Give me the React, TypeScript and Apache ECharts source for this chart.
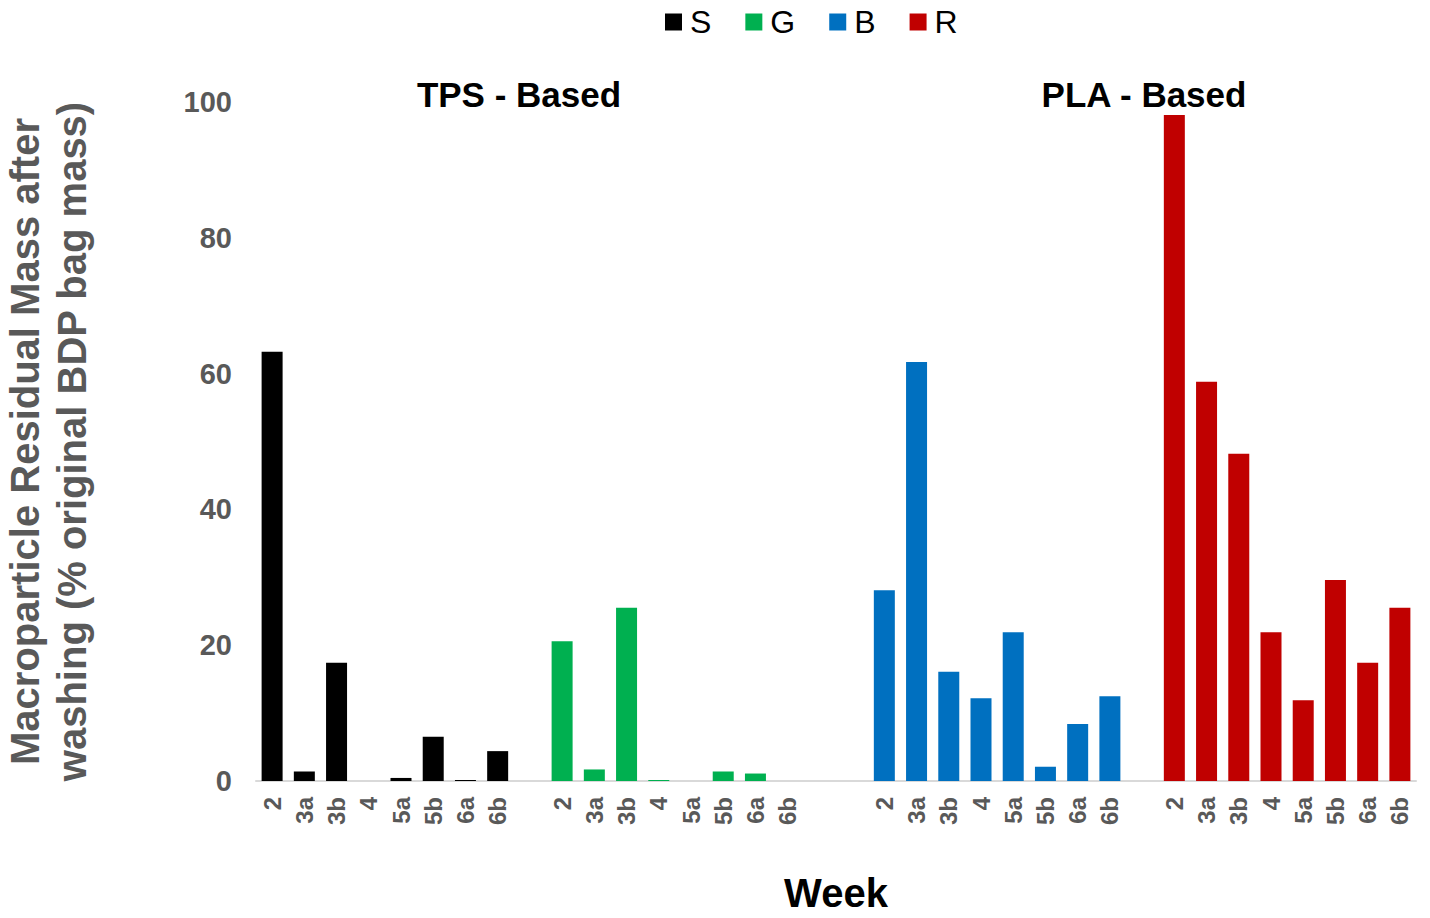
import React, { useEffect, useRef } from "react";
import * as echarts from "echarts";

const weeks = ["2", "3a", "3b", "4", "5a", "5b", "6a", "6b"];
const seriesNames = ["S", "G", "B", "R"];
const seriesColors = ["#000000", "#00b050", "#0070c0", "#c00000"];
const sValues = [63.2, 1.4, 17.4, 0, 0.45, 6.5, 0.15, 4.4];
const gValues = [20.6, 1.7, 25.5, 0.15, 0, 1.4, 1.1, 0];
const bValues = [28.1, 61.7, 16.1, 12.2, 21.9, 2.1, 8.4, 12.5];
const rValues = [98.1, 58.8, 48.2, 21.9, 11.9, 29.6, 17.4, 25.5];
// blank category slots between the groups
const gapSlots = [1, 2, 1];
const yTicks = [0, 20, 40, 60, 80, 100];
const groupTitles = ["TPS - Based", "PLA - Based"];

const FONT = "Arial, 'Liberation Sans', sans-serif";

export default function App() {
  const ref = useRef<HTMLDivElement>(null);
  useEffect(() => {
    document.body.style.margin = "0";
    if (!ref.current) return;
    const chart = echarts.init(ref.current, null, { renderer: "svg" });
    const groups = [sValues, gValues, bValues, rValues];
    const categories: string[] = [];
    const starts: number[] = [];
    groups.forEach((_, gi) => {
      starts.push(categories.length);
      weeks.forEach((w) => categories.push(w));
      if (gi < gapSlots.length) {
        for (let k = 0; k < gapSlots[gi]; k++) categories.push("");
      }
    });
    const series = groups.map((vals, gi) => {
      const data: (number | string)[] = categories.map(() => "-");
      vals.forEach((v, i) => {
        data[starts[gi] + i] = v;
      });
      return {
        name: seriesNames[gi],
        type: "bar",
        data,
        barWidth: 21,
        barGap: "-100%",
        itemStyle: { color: seriesColors[gi] },
      };
    });
    const titleStyle = {
      fontSize: 35,
      fontWeight: "bold",
      fill: "#000",
      fontFamily: FONT,
      textAlign: "center",
      textVerticalAlign: "middle",
    };
    chart.setOption({
      animation: false,
      textStyle: { fontFamily: FONT },
      legend: {
        data: seriesNames,
        top: 1,
        left: 660,
        icon: "rect",
        itemWidth: 17,
        itemHeight: 17,
        itemGap: 34,
        textStyle: { fontSize: 32, color: "#000", fontFamily: FONT, padding: [0, 0, 0, 3] },
      },
      grid: { left: 256, right: 14, top: 102, bottom: 137, outerBoundsMode: "none", containLabel: false },
      xAxis: {
        type: "category",
        data: categories,
        axisLine: { lineStyle: { color: "#d9d9d9", width: 2 } },
        axisTick: { show: false },
        axisLabel: {
          interval: 0,
          rotate: 90,
          margin: 16,
          fontSize: 24,
          fontWeight: "bold",
          color: "#595959",
          fontFamily: FONT,
        },
        name: "Week",
        nameLocation: "middle",
        nameGap: 92,
        nameTextStyle: { fontSize: 40, fontWeight: "bold", color: "#000", fontFamily: FONT },
      },
      yAxis: {
        type: "value",
        min: 0,
        max: 100,
        interval: 20,
        axisLine: { show: false },
        axisTick: { show: false },
        splitLine: { show: false },
        axisLabel: {
          margin: 24,
          fontSize: 29,
          fontWeight: "bold",
          color: "#595959",
          fontFamily: FONT,
          formatter: (v: number) => (yTicks.includes(v) ? String(v) : ""),
        },
        name: "Macroparticle Residual Mass after\nwashing (% original BDP bag mass)",
        nameLocation: "middle",
        nameRotate: 90,
        nameGap: 161,
        nameTextStyle: {
          fontSize: 40,
          fontWeight: "bold",
          color: "#595959",
          lineHeight: 47,
          fontFamily: FONT,
        },
      },
      graphic: [
        { type: "text", x: 519, y: 94, style: { ...titleStyle, text: groupTitles[0] } },
        { type: "text", x: 1144, y: 94, style: { ...titleStyle, text: groupTitles[1] } },
      ],
      series,
    });
    return () => chart.dispose();
  }, []);
  return <div ref={ref} style={{ width: 1430, height: 918 }} />;
}
